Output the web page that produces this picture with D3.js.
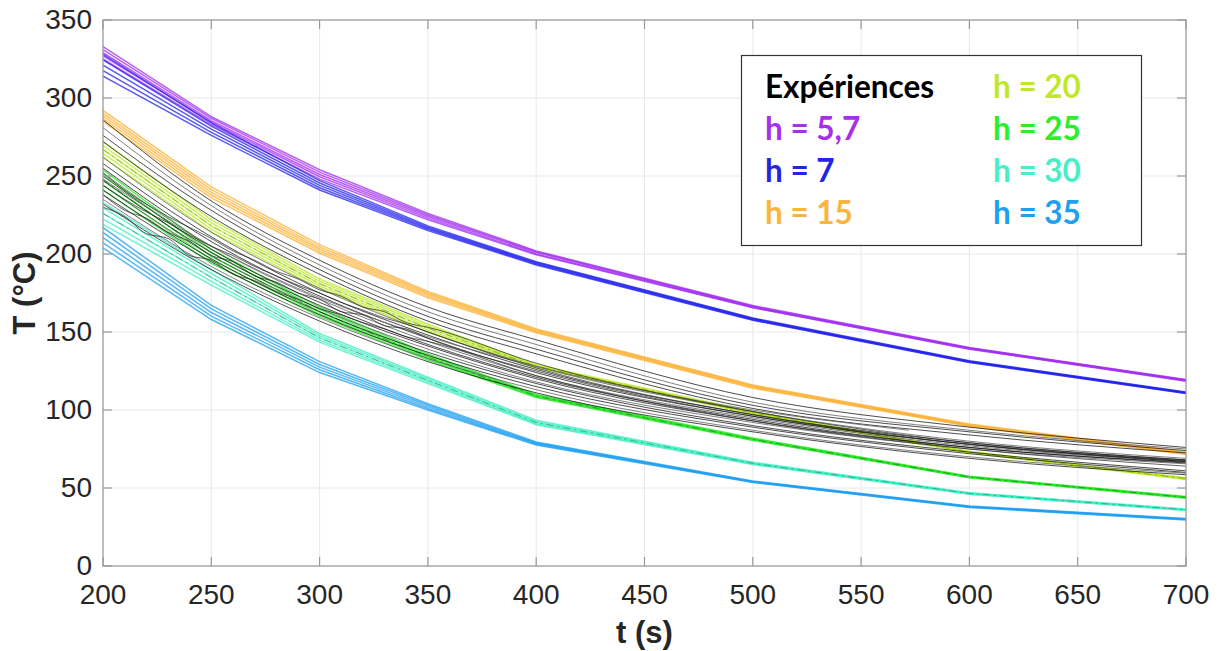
<!DOCTYPE html>
<html>
<head>
<meta charset="utf-8">
<script src="https://cdn.jsdelivr.net/npm/d3@7/dist/d3.min.js"></script>
<style>
  html, body { margin: 0; padding: 0; background: #fff; }
  svg { display: block; }
</style>
</head>
<body>
<svg id="chart" width="1220" height="651"></svg>
<script>
// ---------- DATA ----------
const modelTimes = [200, 250, 300, 350, 400, 500, 600, 700];

const h57 = [
  [333, 288, 254, 226, 202, 167, 140, 119.5],
  [331, 287, 252.5, 225, 201.5, 166.5, 139.8, 119.3],
  [329, 285.5, 251, 224, 201, 166.2, 139.5, 119],
  [327, 284.5, 249.5, 223, 200, 165.8, 139.2, 118.8],
  [325, 283, 248, 222, 199.5, 165.5, 139, 118.5]
];
const h7 = [
  [328, 284, 247, 218, 195, 159, 131.5, 111.5],
  [324.5, 282, 245.5, 217.2, 194.5, 158.6, 131.2, 111.2],
  [321, 280, 244, 216.5, 194, 158.3, 131, 111],
  [317.5, 278, 242.5, 215.8, 193.5, 157.9, 130.8, 110.8],
  [314, 276, 241, 215, 193, 157.5, 130.5, 110.5]
];
const h15 = [
  [292, 243, 206, 176, 152, 116, 91, 73],
  [290.2, 241.2, 204.6, 175, 151.4, 115.5, 90.6, 72.6],
  [288.5, 239.5, 203.2, 174, 150.8, 115, 90.2, 72.2],
  [286.8, 237.8, 201.8, 173, 150.2, 114.5, 89.9, 71.9],
  [285, 236, 200.5, 172, 149.5, 114, 89.5, 71.5]
];
const h20 = [
  [272, 222, 184, 155, 129, 99, 73.5, 56.5],
  [269.5, 220, 182.5, 153.8, 128.5, 98.6, 73.2, 56.2],
  [267, 218, 181, 152.5, 128, 98.2, 73, 56],
  [264.5, 216, 179.5, 151.2, 127.5, 97.9, 72.8, 55.8],
  [262, 214, 178, 150, 127, 97.5, 72.5, 55.5]
];
const h25 = [
  [254, 203, 166, 136, 110, 82, 57.5, 44.5],
  [250.8, 200.8, 164.5, 135, 109.5, 81.6, 57.2, 44.2],
  [247.5, 198.5, 163, 134, 109, 81.2, 57, 44],
  [244.2, 196.2, 161.5, 133, 108.5, 80.9, 56.8, 43.8],
  [241, 194, 160, 132, 108, 80.5, 56.5, 43.5]
];
const h30 = [
  [233, 190, 149, 121, 93.5, 66.5, 47, 36.5],
  [229.5, 187.5, 147.6, 120, 92.8, 66.1, 46.8, 36.2],
  [226, 185, 146.2, 119, 92, 65.8, 46.5, 36],
  [222.5, 182.5, 144.8, 118, 91.2, 65.4, 46.2, 35.8],
  [219, 180, 143.5, 117, 90.5, 65, 46, 35.5]
];
const h35 = [
  [217, 167, 131, 104, 79.5, 54.5, 38.5, 30.5],
  [213.8, 164.8, 129.2, 103, 79, 54.2, 38.2, 30.2],
  [210.5, 162.5, 127.5, 102, 78.5, 54, 38, 30],
  [207.2, 160.2, 125.8, 101, 78, 53.8, 37.8, 29.8],
  [204, 158, 124, 100, 77.5, 53.5, 37.5, 29.5]
];

// experiments (smooth), sampled at modelTimes
const expSmooth = [
  [286, 234, 196, 166, 145, 108, 89, 76],
  [281, 231, 193, 163, 142, 105, 87, 75],
  [276, 228, 190, 160, 139, 103, 86, 74],
  [272, 224, 187, 157, 136, 101, 84, 72.5],
  [262, 214, 178, 150, 128, 99, 80, 69],
  [258, 211, 175, 148, 126, 97, 79, 68],
  [255, 208, 173, 146, 124, 96, 78, 67.5],
  [252, 205, 171, 144, 122, 95, 77, 67],
  [250, 203, 169, 142, 121, 94, 76, 66.5],
  [247, 201, 167, 141, 120, 93, 76, 66],
  [244, 199, 165, 139, 118, 92, 75, 65.5],
  [241, 197, 163, 137, 117, 90, 73, 61],
  [238, 195, 161, 135, 115, 89, 72, 60],
  [235, 192, 159, 133, 113, 87, 70, 59.5],
  [232, 190, 157, 131, 111, 86, 69, 58.5]
];
// one experiment stopped early
const expShortTimes = [200, 250, 300, 350, 400, 500, 572];
const expShort = [248, 205, 172, 147, 128, 100, 87];

// noisy experiments
const noisyTimes = [200, 210, 220, 230, 240, 250, 260, 270, 280, 290, 300, 310, 320, 330, 340, 350, 400, 500, 600, 700];
const expNoisy = [
  [238, 228, 223, 214, 208, 199, 195, 186, 182, 175, 171, 163, 161, 154, 152, 146, 125, 96, 78, 67],
  [244, 235, 227, 220, 212, 205, 199, 192, 186, 180, 175, 169, 164, 159, 155, 150, 127, 97, 78, 67],
  [230, 224, 213, 210, 199, 196, 187, 183, 176, 171, 165, 161, 156, 152, 147, 144, 122, 93, 75, 64],
  [252, 241, 232, 224, 217, 210, 202, 196, 189, 184, 177, 173, 166, 163, 156, 153, 130, 99, 79, 68]
];

const seriesNames = ["h = 5,7", "h = 7", "h = 15", "h = 20", "h = 25", "h = 30", "h = 35"];
const seriesColors = ["#a22cf0", "#2222ee", "#fcb032", "#b9e825", "#22e622", "#3cefc2", "#1e9ff2"];
const legendColors = ["#a630e8", "#2424e0", "#fbb43c", "#bfe82c", "#2cee2c", "#48efc6", "#1ea0f0"];
const bundles = [h57, h7, h15, h20, h25, h30, h35];

const xTicks = [200, 250, 300, 350, 400, 450, 500, 550, 600, 650, 700];
const yTicks = [0, 50, 100, 150, 200, 250, 300, 350];

// ---------- DRAW ----------
const svg = d3.select("#chart");
const x = d3.scaleLinear().domain([200, 700]).range([103, 1186]);
const y = d3.scaleLinear().domain([0, 350]).range([566, 20]);

// grid
const grid = svg.append("g");
grid.selectAll(".gx").data(xTicks).join("line")
  .attr("x1", d => x(d)).attr("x2", d => x(d))
  .attr("y1", y(0)).attr("y2", y(350))
  .attr("stroke", "#e8e8e8").attr("stroke-width", 1);
grid.selectAll(".gy").data(yTicks).join("line")
  .attr("x1", x(200)).attr("x2", x(700))
  .attr("y1", d => y(d)).attr("y2", d => y(d))
  .attr("stroke", "#e8e8e8").attr("stroke-width", 1);

svg.append("defs").append("clipPath").attr("id", "clip")
  .append("rect").attr("x", x(200)).attr("y", y(350))
  .attr("width", x(700) - x(200)).attr("height", y(0) - y(350));

const plot = svg.append("g").attr("clip-path", "url(#clip)");

const lineModel = d3.line().x((d, i) => x(modelTimes[i])).y(d => y(d));
const lineSmooth = d3.line().x((d, i) => x(modelTimes[i])).y(d => y(d)).curve(d3.curveMonotoneX);
const lineShort = d3.line().x((d, i) => x(expShortTimes[i])).y(d => y(d)).curve(d3.curveMonotoneX);
const lineNoisy = d3.line().x((d, i) => x(noisyTimes[i])).y(d => y(d)).curve(d3.curveMonotoneX);

// lower model bundles (drawn under the experiments)
[3, 4, 5, 6, 2].forEach(k => {
  plot.append("g").selectAll("path").data(bundles[k]).join("path")
    .attr("d", lineModel).attr("fill", "none")
    .attr("stroke", seriesColors[k]).attr("stroke-width", 1.5)
    .attr("stroke-opacity", 0.75);
});
// dash-dot darker lines inside some bundles
[[3, "#6d8f1e"], [4, "#127a12"], [5, "#1f8a70"]].forEach(([k, c]) => {
  plot.append("path").datum(bundles[k][2])
    .attr("d", lineModel).attr("fill", "none")
    .attr("stroke", c).attr("stroke-width", 1)
    .attr("stroke-opacity", 0.6).attr("stroke-dasharray", "7,4,2,4");
});

// experiments
const expG = plot.append("g");
expG.selectAll(".es").data(expSmooth).join("path")
  .attr("d", lineSmooth).attr("fill", "none")
  .attr("stroke", (d, i) => i % 3 === 1 ? "#555" : "#111")
  .attr("stroke-width", 1).attr("stroke-opacity", 0.75);
expG.append("path").datum(expShort).attr("d", lineShort)
  .attr("fill", "none").attr("stroke", "#666").attr("stroke-width", 1).attr("stroke-opacity", 0.8);
expG.selectAll(".en").data(expNoisy).join("path")
  .attr("d", lineNoisy).attr("fill", "none")
  .attr("stroke", "#222").attr("stroke-width", 1).attr("stroke-opacity", 0.7);

// upper model bundles
[0, 1].forEach(k => {
  plot.append("g").selectAll("path").data(bundles[k]).join("path")
    .attr("d", lineModel).attr("fill", "none")
    .attr("stroke", seriesColors[k]).attr("stroke-width", 1.5)
    .attr("stroke-opacity", 0.75);
});

// axes box
const axisColor = "#999";
svg.append("rect").attr("x", x(200)).attr("y", y(350))
  .attr("width", x(700) - x(200)).attr("height", y(0) - y(350))
  .attr("fill", "none").attr("stroke", axisColor).attr("stroke-width", 1.2);

const tickLen = 9;
const ticks = svg.append("g").attr("stroke", axisColor).attr("stroke-width", 1.2);
xTicks.forEach(t => {
  ticks.append("line").attr("x1", x(t)).attr("x2", x(t)).attr("y1", y(0)).attr("y2", y(0) - tickLen);
  ticks.append("line").attr("x1", x(t)).attr("x2", x(t)).attr("y1", y(350)).attr("y2", y(350) + tickLen);
});
yTicks.forEach(t => {
  ticks.append("line").attr("x1", x(200)).attr("x2", x(200) + tickLen).attr("y1", y(t)).attr("y2", y(t));
  ticks.append("line").attr("x1", x(700)).attr("x2", x(700) - tickLen).attr("y1", y(t)).attr("y2", y(t));
});

const tickFont = "'Liberation Sans', Arial, sans-serif";
svg.append("g").selectAll("text").data(xTicks).join("text")
  .attr("x", d => x(d)).attr("y", 604)
  .attr("text-anchor", "middle")
  .attr("font-family", tickFont).attr("font-size", 28).attr("fill", "#262626")
  .text(d => d);
svg.append("g").selectAll("text").data(yTicks).join("text")
  .attr("x", 92).attr("y", d => y(d) + 9)
  .attr("text-anchor", "end")
  .attr("font-family", tickFont).attr("font-size", 28).attr("fill", "#262626")
  .text(d => d);

svg.append("text").attr("x", x(450)).attr("y", 643)
  .attr("text-anchor", "middle").attr("font-family", tickFont)
  .attr("font-weight", "bold").attr("font-size", 31).attr("fill", "#262626")
  .text("t (s)");
svg.append("text")
  .attr("transform", `translate(35, ${(y(0) + y(350)) / 2}) rotate(-90)`)
  .attr("text-anchor", "middle").attr("font-family", tickFont)
  .attr("font-weight", "bold").attr("font-size", 31).attr("fill", "#262626")
  .text("T (°C)");

// legend
const lg = svg.append("g");
lg.append("rect").attr("x", 741.5).attr("y", 55.5).attr("width", 400).attr("height", 190)
  .attr("fill", "#fff").attr("stroke", "#333").attr("stroke-width", 1.2);
const legendFont = "Lato, 'Open Sans', sans-serif";
const legendItems = [{name: "Expériences", color: "#000"}]
  .concat(seriesNames.map((n, i) => ({name: n, color: legendColors[i]})));
lg.selectAll("text").data(legendItems).join("text")
  .attr("x", (d, i) => i < 4 ? 765 : 993)
  .attr("y", (d, i) => 98 + (i % 4) * 42)
  .attr("font-family", legendFont).attr("font-weight", "bold").attr("font-size", 31.5)
  .attr("fill", d => d.color)
  .text(d => d.name);
</script>
</body>
</html>
